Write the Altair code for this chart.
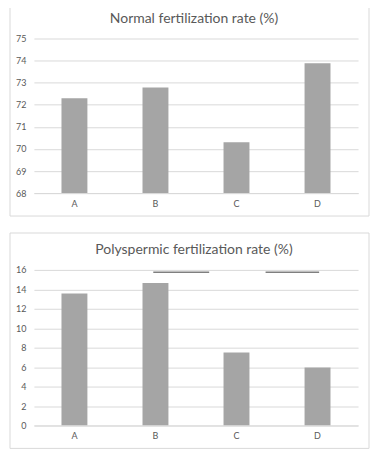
import altair as alt
import pandas as pd

groups = ["A", "B", "C", "D"]
normal_rate = [72.3, 72.78, 70.3, 73.88]
polyspermic_rate = [13.56, 14.66, 7.5, 5.96]
normal_ticks = [68, 69, 70, 71, 72, 73, 74, 75]
poly_ticks = [0, 2, 4, 6, 8, 10, 12, 14, 16]
# significance brackets (in category-band units, 0..4) and level
sig_start = [1.473, 2.859]
sig_end = [2.163, 3.52]
sig_level = [15.75, 15.75]

FONT = "Lato"
TEXT = "#595959"
GRID = "#D9D9D9"
BAR = "#A5A5A5"
W = 325


def panel(values, title, domain, ticks, height, box_bottom, sig=None):
    df = pd.DataFrame({"group": groups, "value": values})
    one = pd.DataFrame({"t": [title]})
    x = alt.X("group:N", sort=groups, title=None,
              scale=alt.Scale(paddingInner=0.68, paddingOuter=0.34),
              axis=alt.Axis(labelAngle=0, ticks=False, domainColor=GRID,
                            labelColor=TEXT, labelFontSize=9, labelFont=FONT,
                            labelPadding=6, grid=False))
    yscale = alt.Scale(domain=domain, nice=False, zero=False)
    yaxis = alt.Axis(values=ticks, ticks=False, domain=False,
                     gridColor=GRID, labelColor=TEXT, labelFontSize=9,
                     labelFont=FONT, labelPadding=8)
    y = alt.Y("value:Q", title=None, scale=yscale, axis=yaxis)
    border = alt.Chart(one).mark_rect(fillOpacity=0, stroke=GRID, strokeWidth=1).encode(
        x=alt.value(-24), x2=alt.value(W + 11), y=alt.value(-37), y2=alt.value(box_bottom))
    bars = alt.Chart(df).mark_bar(color=BAR, clip=True).encode(x=x, y=y)
    ttl = alt.Chart(one).mark_text(font=FONT, fontSize=14, color=TEXT,
                                   baseline="middle", align="center").encode(
        text="t:N", x=alt.value(W / 2 - 2), y=alt.value(-20))
    layers = [border, bars, ttl]
    if sig is not None:
        sdf = pd.DataFrame({"s": sig[0], "e": sig[1], "v": sig[2]})
        rules = alt.Chart(sdf).mark_rule(color="#7F7F7F", strokeWidth=1.5).encode(
            x=alt.X("s:Q", scale=alt.Scale(domain=[0, 4], nice=False), axis=None),
            x2="e:Q",
            y=alt.Y("v:Q", title=None, scale=yscale, axis=yaxis))
        layers.append(rules)
        return alt.layer(*layers).resolve_scale(x="independent").properties(width=W, height=height)
    return alt.layer(*layers).properties(width=W, height=height)


top = panel(normal_rate, "Normal fertilization rate (%)", [68, 75], normal_ticks, 155, 178)
bottom = panel(polyspermic_rate, "Polyspermic fertilization rate (%)", [0, 16], poly_ticks, 156, 179,
               sig=(sig_start, sig_end, sig_level))

chart = alt.vconcat(top, bottom, spacing=15).properties(
    padding={"left": 1, "top": -8, "right": 0, "bottom": 0},
    background="white",
).configure_view(strokeWidth=0)

chart.save("out.html", embed_options={"renderer": "svg", "actions": False})
